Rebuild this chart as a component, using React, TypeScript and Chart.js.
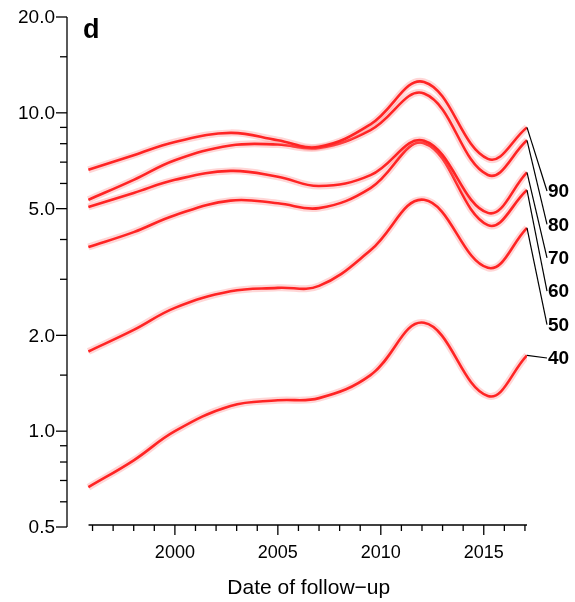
import React, { useEffect, useRef } from "react";
import { Chart, registerables } from "chart.js";
Chart.register(...registerables);

const years = [1995.8, 1998, 2000, 2002.7, 2005, 2007, 2009.5, 2012.1, 2015.2, 2017.1];
const s90 = [6.62, 7.36, 8.1, 8.65, 8.2, 7.82, 9.2, 12.5, 7.17, 9.0];
const s80 = [5.33, 6.16, 7.1, 7.9, 7.95, 7.76, 8.83, 11.5, 6.38, 8.2];
const s70 = [5.06, 5.6, 6.16, 6.57, 6.3, 5.89, 6.37, 8.17, 4.85, 6.5];
const s60 = [3.79, 4.22, 4.77, 5.3, 5.2, 5.02, 5.8, 8.03, 4.44, 5.72];
const s50 = [1.78, 2.08, 2.44, 2.75, 2.82, 2.86, 3.7, 5.33, 3.26, 4.35];
const s40 = [0.667, 0.81, 1.0, 1.2, 1.25, 1.27, 1.5, 2.19, 1.29, 1.73];
const series = [s90, s80, s70, s60, s50, s40];
const seriesLabels = ["90", "80", "70", "60", "50", "40"];
const yMajor = [0.5, 1, 2, 5, 10, 20];
const yMajorLabels = ["0.5", "1.0", "2.0", "5.0", "10.0", "20.0"];
const yMinor = [0.6, 0.7, 0.8, 0.9, 1.5, 3, 4, 6, 7, 8, 9, 15];
const xMajor = [2000, 2005, 2010, 2015];
const xMinorStart = 1996;
const xMinorEnd = 2017;
const xTitle = "Date of follow\u2212up";
const panel = "d";

export default function App() {
  const ref = useRef<HTMLCanvasElement>(null);
  useEffect(() => {
    const FONT = '"Liberation Sans", Arial, sans-serif';
    const datasets: any[] = [];
    series.forEach((s) => {
      const data = years.map((x, i) => ({ x, y: s[i] }));
      datasets.push({ data, borderColor: "rgba(255,120,120,0.3)", borderWidth: 7, pointRadius: 0, tension: 0.4 });
      datasets.push({ data, borderColor: "#ff0000", borderWidth: 2.6, pointRadius: 0, tension: 0.4 });
    });
    const axes = {
      id: "axes",
      afterDraw(c: any) {
        const ctx = c.ctx, xs = c.scales.x, ys = c.scales.y;
        ctx.save();
        ctx.strokeStyle = "#000"; ctx.fillStyle = "#000"; ctx.lineWidth = 1.3;
        const ax = 67;
        ctx.beginPath(); ctx.moveTo(ax, ys.getPixelForValue(20)); ctx.lineTo(ax, ys.getPixelForValue(0.5)); ctx.stroke();
        ctx.font = "19px " + FONT; ctx.textAlign = "right"; ctx.textBaseline = "middle";
        yMajor.forEach((v, i) => {
          const y = ys.getPixelForValue(v);
          ctx.beginPath(); ctx.moveTo(ax - 11, y); ctx.lineTo(ax, y); ctx.stroke();
          ctx.fillText(yMajorLabels[i], ax - 12, y + 1);
        });
        yMinor.forEach((v) => {
          const y = ys.getPixelForValue(v);
          ctx.beginPath(); ctx.moveTo(ax - 7, y); ctx.lineTo(ax, y); ctx.stroke();
        });
        const by = 525;
        ctx.beginPath(); ctx.moveTo(xs.getPixelForValue(xMinorStart) - 4, by); ctx.lineTo(xs.getPixelForValue(xMinorEnd + 0.1), by); ctx.stroke();
        for (let yr = xMinorStart; yr <= xMinorEnd; yr++) {
          const x = xs.getPixelForValue(yr);
          ctx.beginPath(); ctx.moveTo(x, by); ctx.lineTo(x, by + (xMajor.includes(yr) ? 10 : 6)); ctx.stroke();
        }
        ctx.textAlign = "center"; ctx.textBaseline = "middle";
        ctx.font = "18px " + FONT;
        xMajor.forEach((v) => ctx.fillText(String(v), xs.getPixelForValue(v), 553));
        ctx.font = "21px " + FONT;
        ctx.fillText(xTitle, (xs.getPixelForValue(1996) + xs.getPixelForValue(2017)) / 2, 588);
        ctx.font = "bold 27px " + FONT; ctx.textAlign = "left";
        ctx.fillText(panel, 83, 31);
        ctx.font = "bold 19px " + FONT; ctx.lineWidth = 1.2;
        const endX = xs.getPixelForValue(years[years.length - 1]);
        seriesLabels.forEach((lab, i) => {
          const ly = 191 + i * 33.4;
          const ey = ys.getPixelForValue(series[i][series[i].length - 1]);
          ctx.beginPath(); ctx.moveTo(endX, ey); ctx.lineTo(547, ly); ctx.stroke();
          ctx.fillText(lab, 548, ly + 1);
        });
        ctx.restore();
      },
    };
    const chart = new Chart(ref.current!, {
      type: "line",
      data: { datasets },
      plugins: [axes],
      options: {
        animation: false, responsive: false, devicePixelRatio: 1,
        layout: { padding: { left: 67, right: 48, top: 17, bottom: 75 } },
        plugins: { legend: { display: false }, tooltip: { enabled: false } },
        scales: {
          x: { type: "linear", min: 1994.76, max: 2017.1, display: false },
          y: { type: "logarithmic", min: 0.5, max: 20, display: false },
        },
      },
    });
    return () => chart.destroy();
  }, []);
  return (
    <div style={{ position: "absolute", left: 0, top: 0, width: 575, height: 602, background: "#fff" }}>
      <canvas ref={ref} width={575} height={602} style={{ width: 575, height: 602 }} />
    </div>
  );
}
